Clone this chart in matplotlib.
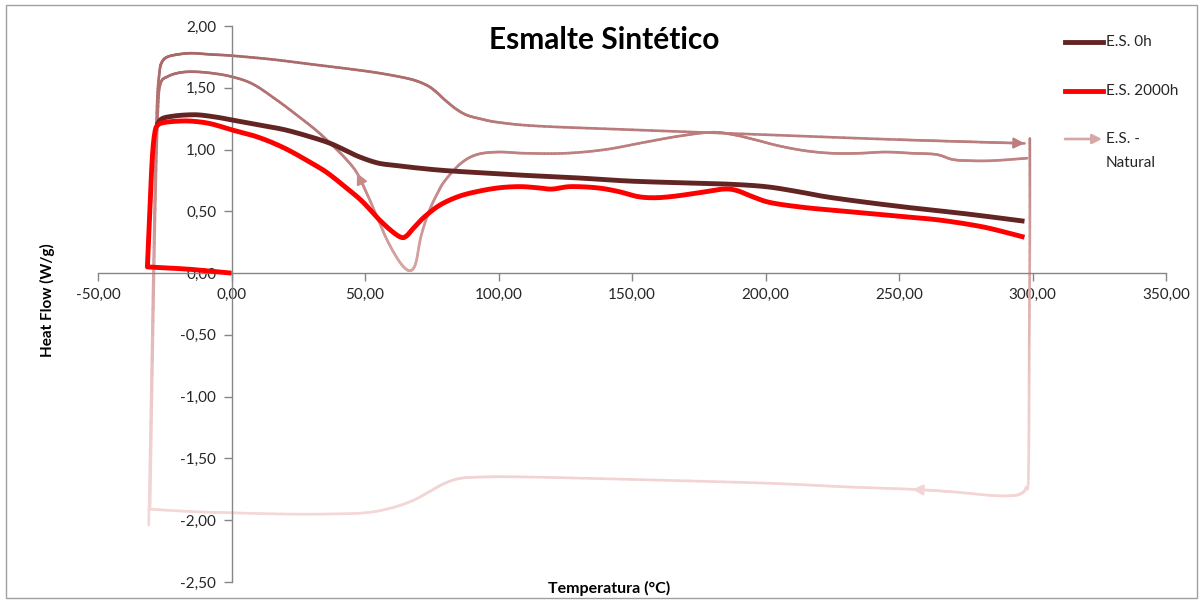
import numpy as np
import matplotlib
matplotlib.use("Agg")
import matplotlib.pyplot as plt
from matplotlib.collections import LineCollection
from matplotlib.colors import LinearSegmentedColormap, Normalize
from matplotlib.lines import Line2D
from matplotlib.patches import Rectangle, FancyArrowPatch
from matplotlib.ticker import FuncFormatter

plt.rcParams['font.family'] = ['Lato', 'DejaVu Sans']

# --- E.S. 0h ---
es0_x = [-28, -26, -22, -17, -12, -5, 0, 10, 20, 30, 37, 43, 48, 55, 62, 70, 80, 95,
         111, 130, 149, 170, 186, 200, 212, 225, 250, 275, 297]
es0_y = [1.20, 1.25, 1.27, 1.28, 1.28, 1.26, 1.24, 1.20, 1.16, 1.10, 1.05, 0.99,
         0.94, 0.89, 0.87, 0.85, 0.83, 0.81, 0.79, 0.77, 0.745, 0.73, 0.72, 0.70,
         0.66, 0.61, 0.54, 0.48, 0.42]

# --- E.S. 2000h ---
es2000_x = [0, -15, -31.5, -30.7, -29.7, -28.7, -27.5, -25, -20, -15, -8, 0, 10, 20,
            30, 36, 43, 49, 55, 60, 63.5, 65.5, 68, 72, 78, 85, 92, 100, 108, 115,
            120, 127, 137, 145, 152, 158, 165, 175, 184, 189, 195, 202, 215, 230,
            250, 265, 280, 290, 297]
es2000_y = [0.00, 0.03, 0.05, 0.45, 0.92, 1.14, 1.20, 1.22, 1.23, 1.23, 1.21, 1.16,
            1.10, 1.01, 0.89, 0.81, 0.69, 0.58, 0.44, 0.34, 0.29, 0.30, 0.36, 0.45,
            0.55, 0.62, 0.66, 0.69, 0.70, 0.69, 0.68, 0.70, 0.69, 0.66, 0.62, 0.61,
            0.62, 0.65, 0.68, 0.67, 0.62, 0.57, 0.53, 0.50, 0.46, 0.43, 0.38, 0.33,
            0.29]

# --- E.S. - Natural: first heating run ---
nat_heat1_x = [-31, -30, -29, -28, -27, -26, -24, -20, -15, -8, 0, 15, 30, 45, 55,
               65, 70, 74, 77, 80, 84, 88, 93, 100, 115, 150, 200, 250, 297]
nat_heat1_y = [-2.04, -0.90, 0.30, 1.30, 1.62, 1.71, 1.75, 1.77, 1.78, 1.77, 1.76,
               1.73, 1.69, 1.65, 1.62, 1.58, 1.55, 1.51, 1.46, 1.40, 1.33, 1.28,
               1.25, 1.22, 1.19, 1.16, 1.12, 1.08, 1.05]

# --- E.S. - Natural: cooling ---
nat_cool_x = [299, 299, 298.8, 298.5, 297.5, 296, 293, 285, 270, 255, 230, 200, 150,
              110, 95, 86, 80, 74, 68, 60, 50, 35, 20, 0, -15, -31]
nat_cool_y = [1.09, 0.30, -0.50, -1.62, -1.74, -1.78, -1.80, -1.80, -1.77, -1.75,
              -1.73, -1.70, -1.67, -1.65, -1.65, -1.66, -1.70, -1.77, -1.84, -1.90,
              -1.94, -1.95, -1.95, -1.94, -1.93, -1.91]

# --- E.S. - Natural: second heating run ---
nat_heat2_x = [-30.5, -29.5, -28.5, -27.5, -26.5, -24, -20, -15, -8, 0, 8, 17, 25,
               32, 38, 43, 47, 51, 55, 58, 61.5, 64.5, 67, 69, 71, 74, 77, 80, 86,
               92, 100, 110, 125, 140, 155, 168, 180, 188, 196, 205, 215, 225, 235,
               245, 255, 264, 270, 276, 285, 298]
nat_heat2_y = [-1.91, -0.60, 0.60, 1.35, 1.54, 1.59, 1.62, 1.63, 1.62, 1.59, 1.53,
               1.40, 1.27, 1.15, 1.03, 0.92, 0.81, 0.63, 0.43, 0.28, 0.14, 0.05,
               0.02, 0.08, 0.30, 0.50, 0.64, 0.75, 0.89, 0.96, 0.98, 0.97, 0.97,
               1.00, 1.06, 1.11, 1.14, 1.12, 1.08, 1.03, 0.99, 0.97, 0.97, 0.98,
               0.97, 0.96, 0.92, 0.91, 0.91, 0.93]

x_ticks = [-50, 0, 50, 100, 150, 200, 250, 300, 350]
y_ticks = [-2.5, -2.0, -1.5, -1.0, -0.5, 0.0, 0.5, 1.0, 1.5, 2.0]

DARK = '#632523'
RED = '#FF0000'
AXIS_GREY = '#868686'
TEXT = '#262626'
nat_cmap = LinearSegmentedColormap.from_list(
    'nat', [(0.0, '#F4D8D8'), (0.25, '#EDCACA'), (0.5, '#DAA6A6'),
            (0.75, '#BD8080'), (1.0, '#A46060')])
nat_norm = Normalize(vmin=-2.0, vmax=2.0)


def smooth(xs, ys, corners=(), steps=12):
    """Smoothed line rendering (cubic Bezier through the points, sharp at corners)."""
    p = np.column_stack([xs, ys]).astype(float)
    n = len(p)
    tang = np.zeros_like(p)
    for i in range(n):
        if i in corners:
            continue
        a = p[max(i - 1, 0)]
        b = p[min(i + 1, n - 1)]
        tang[i] = (b - a) / 6
    out = [p[0]]
    t = np.linspace(0, 1, steps + 1)[1:, None]
    for i in range(n - 1):
        p1, p2 = p[i], p[i + 1]
        c1 = p1 + tang[i]
        c2 = p2 - tang[i + 1]
        seg = ((1 - t) ** 3) * p1 + 3 * ((1 - t) ** 2) * t * c1 \
            + 3 * (1 - t) * t ** 2 * c2 + t ** 3 * p2
        out.extend(seg)
    out = np.array(out)
    return out[:, 0], out[:, 1]


fig = plt.figure(figsize=(12.03, 6.03), dpi=100)
ax = fig.add_axes([98 / 1203, 1 - 582 / 603, (1166 - 98) / 1203, (582 - 26) / 603])
ax.set_xlim(-50, 350)
ax.set_ylim(-2.5, 2.0)


def gradient_line(xs, ys, corners=(), lw=1.9, z=2):
    sx, sy = smooth(xs, ys, corners)
    pts = np.column_stack([sx, sy])
    segs = np.stack([pts[:-1], pts[1:]], axis=1)
    mids = (pts[:-1, 1] + pts[1:, 1]) / 2
    lc = LineCollection(segs, colors=nat_cmap(nat_norm(mids)), linewidths=lw,
                        capstyle='round', joinstyle='round', zorder=z)
    ax.add_collection(lc)


gradient_line(nat_heat1_x, nat_heat1_y)
gradient_line(nat_cool_x, nat_cool_y, corners=(0,))
gradient_line(nat_heat2_x, nat_heat2_y)


def arrow_head(x0, y0, x1, y1):
    c = nat_cmap(nat_norm((y0 + y1) / 2))
    ax.add_patch(FancyArrowPatch((x0, y0), (x1, y1), arrowstyle='-|>',
                                 mutation_scale=16, color=c, lw=1.5, zorder=3,
                                 shrinkA=0, shrinkB=0))


arrow_head(nat_heat1_x[-2], nat_heat1_y[-2], nat_heat1_x[-1], nat_heat1_y[-1])
arrow_head(nat_cool_x[8], nat_cool_y[8], nat_cool_x[9], nat_cool_y[9])
arrow_head(nat_heat2_x[17], nat_heat2_y[17], nat_heat2_x[16], nat_heat2_y[16])

ax.plot(*smooth(es0_x, es0_y), color=DARK, lw=3.5, solid_capstyle='butt', zorder=4)
ax.plot(*smooth(es2000_x, es2000_y, corners=(2,)), color=RED, lw=3.5,
        solid_capstyle='butt', zorder=5)

# axes crossing at the origin
for side in ('top', 'right'):
    ax.spines[side].set_visible(False)
ax.spines['left'].set_position(('data', 0))
ax.spines['bottom'].set_position(('data', 0))
for side in ('left', 'bottom'):
    ax.spines[side].set_color(AXIS_GREY)
    ax.spines[side].set_linewidth(1.0)
ax.set_xticks(x_ticks)
ax.set_yticks(y_ticks)
fmt = FuncFormatter(lambda v, p: f"{v:.2f}".replace('.', ','))
ax.xaxis.set_major_formatter(fmt)
ax.yaxis.set_major_formatter(fmt)
ax.tick_params(axis='both', direction='out', length=6, width=1.0, color=AXIS_GREY,
               labelsize=11, labelcolor=TEXT)
ax.tick_params(axis='x', pad=5)
ax.tick_params(axis='y', pad=5)
ax.patch.set_alpha(0)

fig.text(604 / 1203, 1 - 40 / 603, 'Esmalte Sintético', ha='center', va='center',
         fontsize=21.5, fontweight='bold', color='#000000')
fig.text(47 / 1203, 1 - 300 / 603, 'Heat Flow (W/g)', ha='center', va='center',
         rotation=90, fontsize=11, fontweight='bold', color='#000000')
fig.text(609 / 1203, 1 - 588 / 603, 'Temperatura (°C)', ha='center', va='center',
         fontsize=11.5, fontweight='bold', color='#000000')


# legend placed in figure pixels
def fx(px):
    return px / 1203


def fy(py):
    return 1 - py / 603


fig.add_artist(Line2D([fx(1065), fx(1103)], [fy(42), fy(42)], color=DARK, lw=3.5))
fig.text(fx(1106), fy(42), 'E.S. 0h', va='center', ha='left', fontsize=11,
         color=TEXT)
fig.add_artist(Line2D([fx(1065), fx(1103)], [fy(91), fy(91)], color=RED, lw=3.5))
fig.text(fx(1106), fy(91), 'E.S. 2000h', va='center', ha='left', fontsize=11,
         color=TEXT)
fig.add_artist(FancyArrowPatch((fx(1065), fy(139)), (fx(1102), fy(139)),
                               transform=fig.transFigure, arrowstyle='-|>',
                               mutation_scale=14, color='#D6A7A7', lw=1.9,
                               shrinkA=0, shrinkB=0))
fig.text(fx(1106), fy(139), 'E.S. -', va='center', ha='left', fontsize=11,
         color=TEXT)
fig.text(fx(1106), fy(163), 'Natural', va='center', ha='left', fontsize=11,
         color=TEXT)

# chart area border
fig.add_artist(Rectangle((fx(6), fy(598)), fx(1197) - fx(6), fy(5) - fy(598),
                         transform=fig.transFigure, fill=False,
                         edgecolor='#A0A0A0', lw=1.0))

fig.savefig('out.png', dpi=100)
